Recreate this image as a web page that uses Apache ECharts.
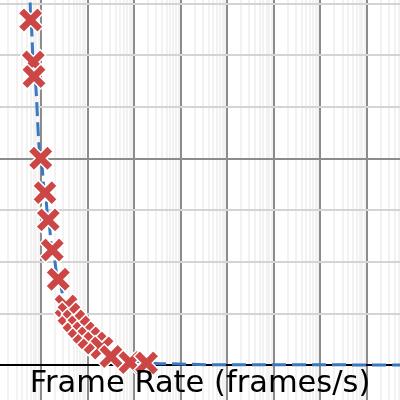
<!DOCTYPE html>
<html>
<head>
<meta charset="utf-8">
<script src="https://cdn.jsdelivr.net/npm/echarts@6/dist/echarts.min.js"></script>
<style>html,body{margin:0;padding:0;background:#fff}#c{width:400px;height:400px}</style>
</head>
<body>
<div id="c"></div>
<script>
// measured markers: frame rate (frames/s) vs frame time (s)
var frameRate = [0.610, 0.694, 0.718, 1.0, 1.237, 1.456, 1.775, 2.388, 3.494, 4.053, 5.19, 6.645, 8.507, 10.89, 14.66, 20.72, 32.33, 82.7, 187];
var frameTime = [1.669, 1.466, 1.396, 1.0, 0.834, 0.702, 0.556, 0.415, 0.285, 0.247, 0.213, 0.184, 0.155, 0.131, 0.106, 0.082, 0.041, 0.012, 0.010];
// dashed fitted curve
var fitRate = [0.57, 0.589, 0.610, 0.718, 1.0, 1.237, 1.456, 1.775, 2.388, 3.494, 5.45, 11.45, 30.8, 82.6, 364, 7080, 5e8];
var fitTime = [1.85, 1.766, 1.669, 1.418, 1.0, 0.832, 0.702, 0.556, 0.416, 0.285, 0.198, 0.116, 0.051, 0.019, 0.006, 0.001, 0.0];
// log-axis grid: decades (major) and multipliers (minor)
var minorMult = [2, 3, 4, 5, 6, 7, 8, 9];
var decades = [-2, -1, 0, 1, 2, 3, 4, 5, 6, 7, 8];
var xName = 'Frame Rate (frames/s)';

var gridLines = [];
decades.forEach(function (k) {
  minorMult.forEach(function (m) {
    gridLines.push({ xAxis: m * Math.pow(10, k), lineStyle: { color: '#eeeeee', width: 1.5, type: 'solid' } });
  });
});
decades.forEach(function (k) {
  gridLines.push({ xAxis: Math.pow(10, k), lineStyle: { color: '#8c8c8c', width: 2, type: 'solid' } });
});

var xPath = 'path://M0 4.6 L4.6 0 L10 5.4 L15.4 0 L20 4.6 L14.6 10 L20 15.4 L15.4 20 L10 14.6 L4.6 20 L0 15.4 L5.4 10 Z';

var chart = echarts.init(document.getElementById('c'), null, { renderer: 'canvas' });
chart.setOption({
  animation: false,
  backgroundColor: '#ffffff',
  title: {
    text: xName, left: 'center', top: 369, padding: 0,
    textStyle: { fontFamily: 'DejaVu Sans', fontSize: 30.5, fontWeight: 'normal', color: '#000' }
  },
  grid: { left: -50, width: 500, top: -48.4, height: 620.1, containLabel: false, outerBoundsMode: 'none' },
  xAxis: {
    type: 'log', logBase: 10,
    min: Math.pow(10, -1.94761), max: Math.pow(10, 8.78892),
    axisLine: { show: true, onZero: true, lineStyle: { color: '#000', width: 2 } },
    axisTick: { show: false }, axisLabel: { show: false },
    splitLine: { show: false },
    minorTick: { show: false }, minorSplitLine: { show: false }
  },
  yAxis: {
    type: 'value', min: -1, max: 2, interval: 1,
    axisLine: { show: false }, axisTick: { show: false }, axisLabel: { show: false },
    splitLine: { show: true, lineStyle: { color: '#8c8c8c', width: 2 } },
    minorTick: { show: false, splitNumber: 4 },
    minorSplitLine: { show: true, lineStyle: { color: '#d4d4d4', width: 2 } }
  },
  series: [
    {
      type: 'line', z: 2,
      data: fitRate.map(function (r, i) { return [r, fitTime[i]]; }),
      showSymbol: false, symbol: 'none', smooth: 0.4, smoothMonotone: 'x',
      lineStyle: { color: '#3a78c0', width: 3, type: [14, 6] },
      markLine: {
        silent: true, symbol: ['none', 'none'], z: -1,
        label: { show: false },
        data: gridLines
      }
    },
    {
      type: 'scatter', z: 3,
      data: frameRate.map(function (r, i) { return [r, frameTime[i]]; }),
      symbol: xPath, symbolSize: 25,
      itemStyle: { color: '#cd4646', borderColor: '#ffffff', borderWidth: 1.5, opacity: 1 }
    }
  ]
});
</script>
</body>
</html>
